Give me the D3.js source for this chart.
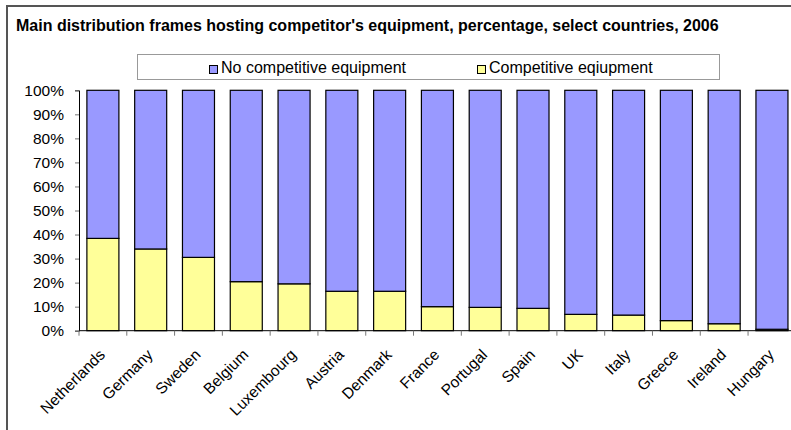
<!DOCTYPE html>
<html>
<head>
<meta charset="utf-8">
<script src="https://cdn.jsdelivr.net/npm/d3@7"></script>
<style>
  html, body { margin: 0; padding: 0; background: #fff; }
  svg { display: block; }
  text { font-family: "Liberation Sans", Arial, sans-serif; fill: #000; }
</style>
</head>
<body>
<div id="chart"></div>
<script>
// Share of main distribution frames with competitor equipment, 2006
const countries = ["Netherlands", "Germany", "Sweden", "Belgium", "Luxembourg", "Austria", "Denmark",
  "France", "Portugal", "Spain", "UK", "Italy", "Greece", "Ireland", "Hungary"];
const competitive = [38.4, 34.0, 30.5, 20.4, 19.5, 16.4, 16.4, 10.0, 9.7, 9.3, 6.8, 6.5, 4.2, 2.9, 0.6];
const noCompetitive = competitive.map(v => 100 - v);
const seriesNames = ["No competitive equipment", "Competitive eqiupment"];
const seriesColors = ["#9999ff", "#ffff99"];
const yTicks = [0, 10, 20, 30, 40, 50, 60, 70, 80, 90, 100];
const title = "Main distribution frames hosting competitor's equipment, percentage, select countries, 2006";

const W = 791, H = 430;
const svg = d3.select("#chart").append("svg").attr("width", W).attr("height", H);

// Outer chart frame
svg.append("rect").attr("x", 7).attr("y", 6).attr("width", 800).attr("height", 440)
  .attr("fill", "#fff").attr("stroke", "#555").attr("stroke-width", 2);

svg.append("text").attr("x", 16).attr("y", 31)
  .attr("font-size", 16).attr("font-weight", "bold").text(title);

// Plot scales
const plot = { left: 79, top: 90.3, bottom: 330.7 };
const x = d3.scaleBand().domain(countries)
  .range([plot.left, plot.left + 15 * 47.79]).paddingInner(0.33).paddingOuter(0.165);
const y = d3.scaleLinear().domain([0, 100]).range([plot.bottom, plot.top]);

const rows = countries.map((c, i) => ({ country: c, comp: competitive[i], none: noCompetitive[i] }));
const stack = d3.stack().keys(["comp", "none"])(rows);
const g = svg.append("g");
stack.forEach((layer, li) => {
  g.append("g").selectAll("rect").data(layer).join("rect")
    .attr("x", d => x(d.data.country))
    .attr("width", x.bandwidth())
    .attr("y", d => y(d[1]))
    .attr("height", d => y(d[0]) - y(d[1]))
    .attr("fill", li === 0 ? seriesColors[1] : seriesColors[0])
    .attr("stroke", "#000").attr("stroke-width", 1.2);
});

// Y axis
const yAxis = svg.append("g").attr("transform", `translate(${plot.left},0)`)
  .call(d3.axisLeft(y).tickValues(yTicks).tickFormat(d => d + "%").tickSize(4).tickPadding(11));
yAxis.select(".domain").attr("stroke", "#000");
yAxis.selectAll(".tick line").attr("stroke", "#777");
yAxis.selectAll("text").attr("font-size", 15.5).attr("font-family", "Liberation Sans, Arial, sans-serif");

// X axis with ticks on category boundaries
const step = x.step();
const boundaries = d3.range(0, countries.length + 1).map(i => plot.left + i * step);
svg.append("line").attr("x1", plot.left).attr("x2", W).attr("y1", plot.bottom).attr("y2", plot.bottom)
  .attr("stroke", "#000");
svg.append("g").selectAll("line").data(boundaries).join("line")
  .attr("x1", d => d).attr("x2", d => d)
  .attr("y1", plot.bottom).attr("y2", plot.bottom + 5).attr("stroke", "#777");

svg.append("g").selectAll("text").data(countries).join("text")
  .attr("transform", d => `translate(${x(d) + x.bandwidth() / 2 + 3},${plot.bottom + 25}) rotate(-45)`)
  .attr("text-anchor", "end").attr("font-size", 15.5).text(d => d);

// Legend
const lg = svg.append("g");
lg.append("rect").attr("x", 137.5).attr("y", 54.5).attr("width", 582).attr("height", 25)
  .attr("fill", "#fff").attr("stroke", "#999");
const legendX = [209, 477];
seriesNames.forEach((name, i) => {
  lg.append("rect").attr("x", legendX[i] + 0.5).attr("y", 65.5).attr("width", 8).attr("height", 8)
    .attr("fill", seriesColors[i]).attr("stroke", "#000");
  lg.append("text").attr("x", legendX[i] + 12).attr("y", 73).attr("font-size", 16).text(name);
});
</script>
</body>
</html>
